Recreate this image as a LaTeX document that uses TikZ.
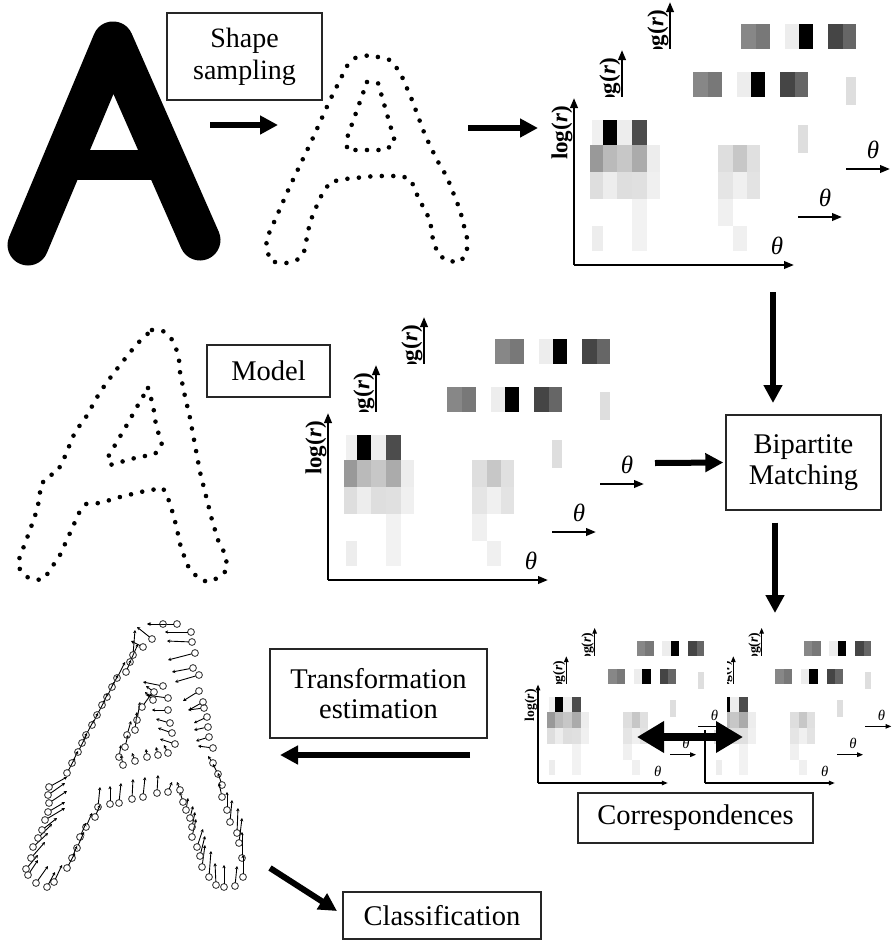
\documentclass[tikz,border=0pt]{standalone}
\usepackage{fontspec}
\setmainfont{Liberation Serif}
\usetikzlibrary{arrows.meta}

\tikzset{
  flowbox/.style={draw=black!85, line width=1.4pt, fill=white, align=center,
    inner sep=0pt, font=\fontsize{28.5}{31}\selectfont},
  bigarrow/.style={line width=6pt, -{Triangle[length=18pt,width=18pt]}},
  dotline/.style={line width=4.6pt, line cap=round, dash pattern=on 0pt off 11.5pt},
  loglab/.style={rotate=90, inner sep=0pt, font=\fontsize{23}{23}\selectfont\bfseries},
  thetalab/.style={inner sep=0pt, font=\fontsize{25}{25}\selectfont\itshape},
  corrcirc/.style={draw=black!75, line width=0.9pt},
  corrvec/.style={line width=0.9pt, shorten <=3.4pt, -{Stealth[length=3.2pt,width=3.4pt]}},
}

% one row of histogram cells: top, bottom, list of x-left/x-right/shade
\newcommand\cellrow[3]{%
  \foreach \xa/\xb/\sh in {#3} {\fill[black!\sh] (\xa,#1) rectangle (\xb,#2);}}

% cells of the two rear layers
\newcommand\backcells{%
  \cellrow{-145}{-120}{71/86/47,86/100/53,115/129/7,129/143/100,158/173/73,173/186/60}%
  \fill[black!13] (176,-92) rectangle (186,-64);}

% cells of the front layer
\newcommand\frontcells{%
  \cellrow{-145}{-120}{18/29/6,29/43/100,43/58/7,58/73/70}%
  \cellrow{-120}{-93}{16/29/40,29/43/27,43/58/22,58/73/33,73/86/7,144/159/13,159/173/22,173/186/12}%
  \cellrow{-93}{-66}{16/29/13,29/43/7,43/58/13,58/73/12,73/86/6,144/159/10,159/173/6,173/186/11}%
  \cellrow{-66}{-39}{58/73/5,144/159/6}%
  \cellrow{-39}{-14}{18/29/7,58/73/5,159/173/6}}

% one layer: white sheet, axes and labels (#1 = 1 prints the log(r) label)
\newcommand\histlayer[1]{%
  \fill[white] (-24,-168) rectangle (224,6);
  \draw[histaxis] (0,0) -- (0,-167);
  \draw[histaxis] (0,0) -- (220,0);
  \ifnum#1=1 \node[loglab] at (-12,-132) {log(\textit{r})};\fi
  \node[thetalab] at (203,-19) {θ};}

% stacked log-polar histograms: origin x, origin y, scale, front label flag
\newcommand\histpanel[4]{%
  \begin{scope}[shift={(#1,#2)}, scale=#3, transform shape,
      histaxis/.style={line width=#3*2.2pt, -{Triangle[length=10pt,width=7.5pt,scale=#3]}}]
    \begin{scope}[shift={(96,-96)}]\histlayer{1}\backcells\end{scope}
    \begin{scope}[shift={(48,-48)}]\histlayer{1}\backcells\end{scope}
    \histlayer{#4}\frontcells
  \end{scope}}

\begin{document}
\begin{tikzpicture}[x=1pt, y=-1pt]
\useasboundingbox[fill=white] (0,0) rectangle (893,943);

% ---------- histogram stacks ----------
\histpanel{574}{265}{1}{1}
\histpanel{328}{580}{1}{1}
\histpanel{705}{783}{0.59}{0}
\histpanel{538}{783}{0.59}{1}

% ---------- solid input character ----------
\draw[line width=41pt, line cap=round, line join=round] (28,245) -- (113,42) -- (200,240);
\draw[line width=30pt] (62,165) -- (166,165);

% ---------- sampled contour ----------
\draw[dotline] plot coordinates {(275,262) (287,263) (299,259) (304,252) (310,222) (320,198)
  (330,182) (345,179) (375,176) (402,176) (411,180) (418,197) (430,220) (433,240) (438,254)
  (447,261) (460,262) (467,253) (467,238) (460,210) (447,177) (437,160) (425,135) (412,100)
  (400,72) (390,60) (370,55) (355,58) (347,66) (330,100) (312,140) (290,186) (275,220)
  (266,240) (268,254) (275,262)};
\draw[dotline] (367,82) -- (378,83) -- (395,142) -- (386,150) -- (347,150) -- (347,138) -- cycle;

% ---------- model contour ----------
\draw[dotline] plot coordinates {(152,330) (163,331) (171,338) (176,348) (179,360) (180,372)
  (184,392) (190,418) (195,445) (200,472) (207,500) (212,520) (218,540) (226,556) (227,570)
  (218,578) (207,582) (197,577) (188,566) (181,548) (176,525) (170,503) (163,488) (145,491)
  (120,497) (100,503) (86,504) (79,513) (70,533) (60,555) (50,570) (44,579) (36,580)
  (27,577) (19,568) (18,562) (24,546) (30,530) (37,510) (40,495) (40,486) (47,477) (57,472)
  (63,461) (75,432) (86,417) (100,392) (113,374) (124,360) (136,345) (144,337) (152,330)};
\draw[dotline] plot coordinates {(148,388) (153,405) (156,425) (162,445) (155,454) (135,458)
  (110,465) (108,457) (118,440) (128,423) (138,405) (148,388)};

% ---------- estimated displacements ----------
\foreach \x/\y/\dx/\dy in {
  177/624/-30/0, 163/624/-15/0, 191/632/-26/0, 192/642/-25/-1, 195/653/-27/7, 193/668/-21/4,
  199/675/-24/7, 199/691/-16/10, 203/702/-14/8, 204/708/-16/2, 207/717/-13/6, 208/727/-14/3,
  209/737/-13/4, 213/748/-15/-2, 213/763/-5/-7, 218/774/-5/-10, 222/785/-4/-12, 222/797/-3/-14,
  227/810/0/-18, 230/822/2/-22, 237/833/1/-25, 239/843/3/-25, 242/858/0/-26, 243/877/0/-22,
  235/886/2/-20, 224/887/0/-22, 216/885/-1/-22, 209/877/2/-26, 202/867/3/-22, 200/856/5/-20,
  197/847/6/-18, 192/837/4/-18, 192/827/3/-15, 190/818/3/-12, 186/810/2/-12, 183/802/-3/-10,
  180/790/-3/-8, 168/792/4/-10, 157/793/1/-18, 143/797/2/-20, 132/799/1/-20, 119/803/2/-20,
  110/804/0/-18, 98/807/2/-20, 95/817/5/-12, 86/827/6/-14, 80/837/6/-14, 77/848/7/-16,
  72/858/5/-12, 67/868/8/-15, 54/882/8/-17, 47/887/8/-15, 36/883/12/-17, 28/875/10/-15,
  26/869/12/-14, 31/858/14/-16, 33/847/15/-14, 38/838/14/-14, 42/830/15/-12, 45/820/20/-12,
  48/812/17/-10, 49/803/18/-12, 48/795/17/-12, 49/787/18/-10, 67/773/8/-15, 72/763/6/-12,
  78/752/8/-16, 82/743/5/-10, 86/735/8/-15, 92/725/6/-12, 97/715/8/-15, 102/705/6/-12,
  107/697/7/-15, 112/687/6/-12, 117/678/8/-16, 126/672/5/-12, 130/662/8/-18, 133/655/2/-25,
  143/647/-12/-6, 152/639/-15/-12,
  163/686/-20/-4, 168/698/-22/-3, 168/710/-16/0, 170/723/-14/-4, 172/733/-14/-5, 175/744/-15/-5,
  168/753/-4/-8, 158/755/-2/-8, 147/757/-1/-8, 135/761/-3/-8, 123/765/-2/-10, 119/757/2/-12,
  125/747/3/-12, 127/735/4/-14, 135/730/2/-18, 137/720/3/-18, 142/707/10/-14, 153/700/-8/-8,
  154/692/-8/-6} {
  \draw[corrcirc] (\x,\y) circle (3.4pt);
  \draw[corrvec] (\x,\y) -- ++(\dx,\dy);
}

% ---------- process boxes ----------
\node[flowbox, minimum width=155pt, minimum height=87pt, font=\fontsize{28}{32}\selectfont]
  (ss) at (244.5,56.5) {Shape\\sampling};
\node[flowbox, minimum width=123pt, minimum height=52pt] (model) at (268.5,371) {Model};
\node[flowbox, minimum width=155pt, minimum height=95pt] (bm) at (803.5,462.5) {Bipartite\\Matching};
\node[flowbox, minimum width=235pt, minimum height=50pt] (corr) at (695.5,818) {Correspondences};
\node[flowbox, minimum width=217pt, minimum height=89pt, font=\fontsize{28.5}{30}\selectfont]
  (trans) at (378.5,693.5) {Transformation\\estimation};
\node[flowbox, minimum width=198pt, minimum height=47pt] (cls) at (442,915.5) {Classification};

% ---------- flow arrows ----------
\coordinate (s1) at (210,125);  \coordinate (e1) at (278,125);
\coordinate (s2) at (468,128);  \coordinate (e2) at (538,128);
\coordinate (s3) at (773,292);  \coordinate (e3) at (773,403);
\coordinate (s4) at (655,463);
\coordinate (e5) at (775,613);
\coordinate (s6) at (470,755);  \coordinate (e6) at (280,755);
\coordinate (s7) at (270,868);  \coordinate (e7) at (337,911);
\coordinate (dl) at (637,737);  \coordinate (dr) at (743,737);

\draw[bigarrow] (s1) -- (e1);
\draw[bigarrow] (s2) -- (e2);
\draw[bigarrow] (s3) -- (e3);
\draw[bigarrow, shorten >=2pt] (s4) -- (bm.west);
\draw[bigarrow, shorten <=12pt] (bm.south -| e5) -- (e5);
\draw[bigarrow] (s6) -- (e6);
\draw[bigarrow] (s7) -- (e7);
\draw[line width=8pt, {Triangle[length=27pt,width=30pt]}-{Triangle[length=27pt,width=30pt]}] (dl) -- (dr);
\end{tikzpicture}
\end{document}
